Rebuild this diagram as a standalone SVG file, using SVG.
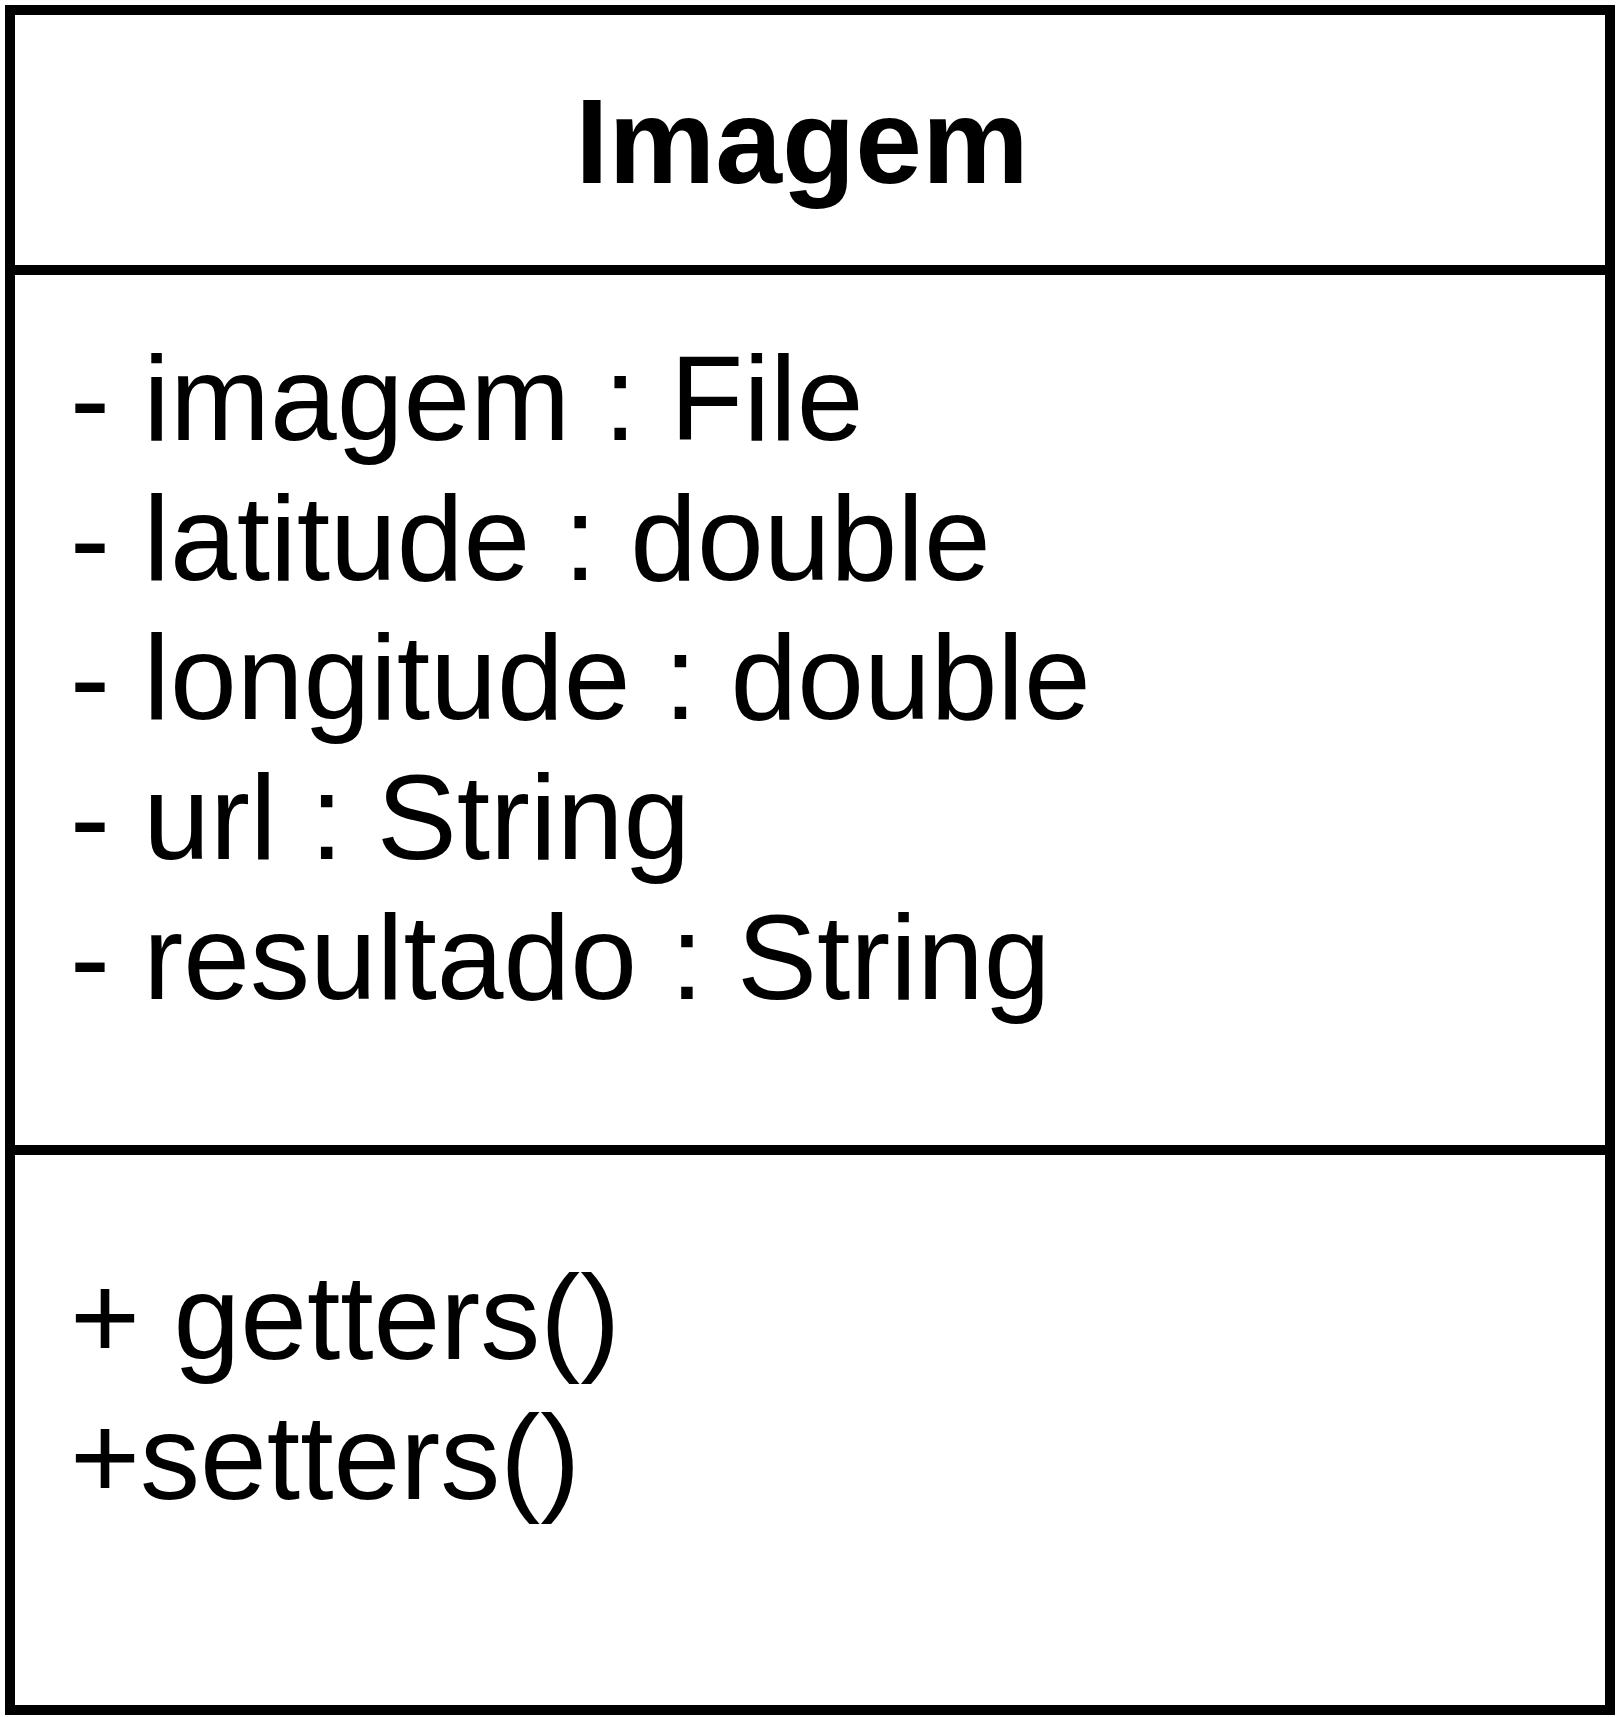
<svg xmlns="http://www.w3.org/2000/svg" width="1617" height="1717" viewBox="0 0 1617 1717">
  <style>
    .box { fill: #ffffff; stroke: #000000; stroke-width: 10; }
    .sep { stroke: #000000; stroke-width: 10; }
    .title { font-family: "Liberation Sans", Arial, sans-serif; font-weight: bold; font-size: 120px; fill: #000000; }
    .member { font-family: "Liberation Sans", Arial, sans-serif; font-size: 120px; fill: #000000; }
  </style>
  <rect width="1617" height="1717" fill="#ffffff"/>
  <!-- UML class: Imagem -->
  <g id="class-imagem">
    <rect class="box" x="10" y="10" width="1600" height="1700"/>
    <line class="sep" x1="10" y1="270" x2="1610" y2="270"/>
    <line class="sep" x1="10" y1="1150" x2="1610" y2="1150"/>
    <text class="title" x="802" y="183" text-anchor="middle">Imagem</text>
    <g id="attributes">
      <text class="member" x="70" y="440">- imagem : File</text>
      <text class="member" x="70" y="580">- latitude : double</text>
      <text class="member" x="70" y="719">- longitude : double</text>
      <text class="member" x="70" y="859">- url : String</text>
      <text class="member" x="70" y="999">- resultado : String</text>
    </g>
    <g id="operations">
      <text class="member" x="70" y="1359">+ getters()</text>
      <text class="member" x="70" y="1499">+setters()</text>
    </g>
  </g>
  <g id="connectors"/>
</svg>
